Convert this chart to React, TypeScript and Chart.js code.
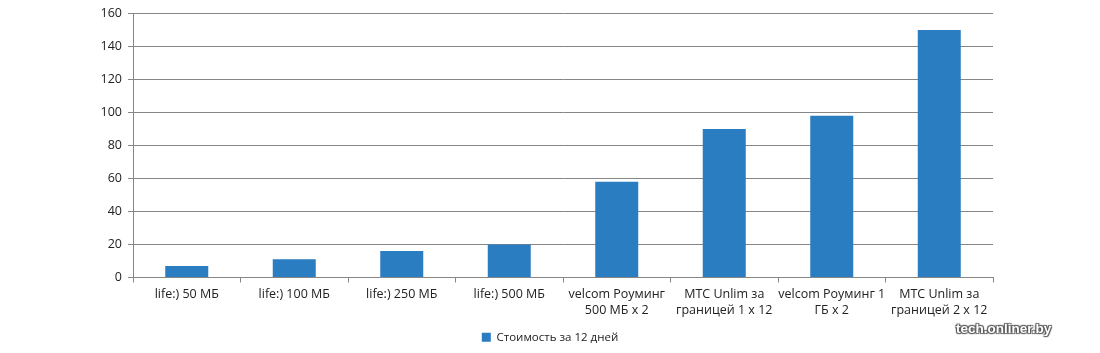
import React, { useEffect, useRef } from "react";
import { Chart, registerables } from "chart.js";

Chart.register(...registerables);

const categories: (string | string[])[] = [
  "life:) 50 МБ",
  "life:) 100 МБ",
  "life:) 250 МБ",
  "life:) 500 МБ",
  ["velcom Роуминг", "500 МБ x 2"],
  ["МТС Unlim за", "границей 1 x 12"],
  ["velcom Роуминг 1", "ГБ x 2"],
  ["МТС Unlim за", "границей 2 x 12"],
];
const costValues: number[] = [7, 11, 16, 20, 58, 90, 98, 150];
const seriesName = "Стоимость за 12 дней";
const yTicks: number[] = [0, 20, 40, 60, 80, 100, 120, 140, 160];

const FONT = "'Open Sans', 'Noto Sans', sans-serif";

export default function App() {
  const ref = useRef<HTMLCanvasElement | null>(null);
  useEffect(() => {
    if (!ref.current) return;
    const chart = new Chart(ref.current, {
      type: "bar",
      data: {
        labels: categories,
        datasets: [
          {
            label: seriesName,
            data: costValues,
            backgroundColor: "#2a7dc0",
            borderWidth: 0,
            barPercentage: 0.4,
            categoryPercentage: 1,
          },
        ],
      },
      options: {
        animation: false,
        responsive: false,
        maintainAspectRatio: false,
        layout: { padding: { left: 0, right: 0, top: 13, bottom: 0 } },
        plugins: {
          tooltip: { enabled: false },
          legend: {
            position: "bottom",
            labels: {
              boxWidth: 9,
              boxHeight: 9,
              padding: 8,
              color: "#222",
              font: { family: FONT, size: 11.5 },
            },
          },
        },
        scales: {
          x: {
            grid: {
              offset: true,
              drawOnChartArea: false,
              drawTicks: true,
              tickLength: 5,
              color: "#868686",
            },
            border: { color: "#868686", width: 1 },
            ticks: {
              color: "#222",
              font: { family: FONT, size: 12.5, lineHeight: 1.35 },
              maxRotation: 0,
              autoSkip: false,
              padding: 3,
            },
            afterFit: (s: any) => {
              s.height = 46;
            },
          },
          y: {
            min: 0,
            max: 160,
            afterBuildTicks: (s: any) => {
              s.ticks = yTicks.map((v) => ({ value: v }));
            },
            grid: {
              color: "#868686",
              drawTicks: true,
              tickLength: 5,
            },
            border: { color: "#868686", width: 1 },
            ticks: {
              color: "#222",
              font: { family: FONT, size: 12.5 },
              padding: 6,
            },
            afterFit: (s: any) => {
              s.width = 133;
            },
          },
          spacer: {
            type: "linear",
            position: "right",
            display: true,
            grid: { drawOnChartArea: false, drawTicks: false },
            border: { display: false },
            ticks: { display: false },
            afterFit: (s: any) => {
              s.width = 107;
            },
          },
        },
      },
    });
    return () => chart.destroy();
  }, []);
  return (
    <div
      style={{
        position: "absolute",
        left: 0,
        top: 0,
        width: 1100,
        height: 353,
        background: "#fff",
      }}
    >
      <canvas ref={ref} width={1100} height={353} style={{ display: "block" }} />
      <div
        style={{
          position: "absolute",
          left: 956,
          top: 321,
          fontFamily: "'Liberation Sans', Arial, sans-serif",
          fontWeight: "bold",
          fontSize: 13.5,
          color: "#fff",
          textShadow:
            "1px 1px 1px #555, -1px -1px 1px #555, 1px -1px 1px #555, -1px 1px 1px #555",
        }}
      >
        tech.onliner.by
      </div>
    </div>
  );
}
